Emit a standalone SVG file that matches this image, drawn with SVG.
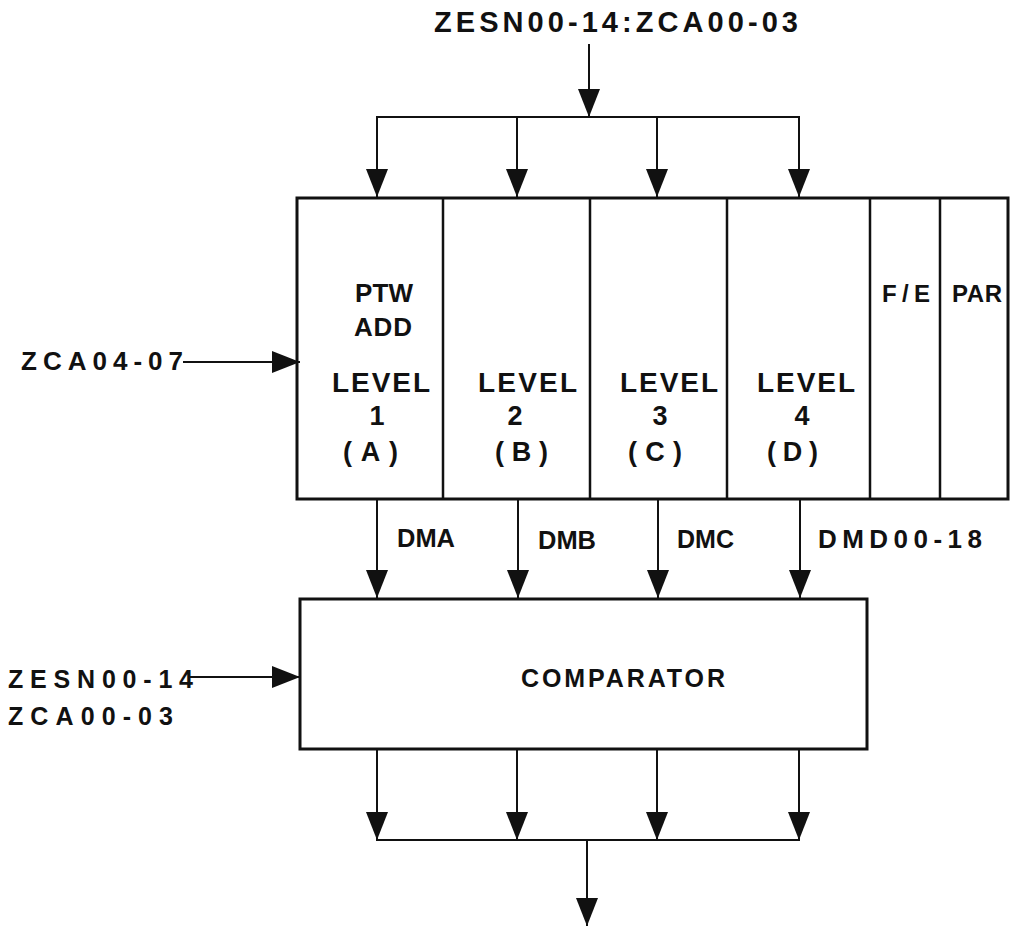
<svg xmlns="http://www.w3.org/2000/svg" width="1011" height="926" viewBox="0 0 1011 926">
<style>
text{font-family:"Liberation Sans",Arial,sans-serif;font-weight:bold;fill:#111}
.t29{font-size:29px}.t28{font-size:28px}.t27{font-size:27px}.t26{font-size:26px}.t25{font-size:25px}.t24{font-size:24px}
.box{fill:#fff;stroke:#111;stroke-width:3}
.div{stroke:#111;stroke-width:2.5}
.ln{stroke:#111;stroke-width:2;fill:none}
</style>
<defs>
<marker id="ah" viewBox="0 0 28 22" refX="28" refY="11" markerWidth="28" markerHeight="22" markerUnits="userSpaceOnUse" orient="auto">
<path d="M0,0 L28,11 L0,22 Z" fill="#111"/>
</marker>
</defs>
<rect width="1011" height="926" fill="#fff"/>
<g id="top-label"><text class="t29" x="434" y="32" textLength="364" lengthAdjust="spacing">ZESN00-14:ZCA00-03</text></g>
<g id="levels-box">
<rect class="box" x="297" y="198" width="711" height="301"/>
<line class="div" x1="443" y1="198" x2="443" y2="499"/>
<line class="div" x1="590" y1="198" x2="590" y2="499"/>
<line class="div" x1="727" y1="198" x2="727" y2="499"/>
<line class="div" x1="870" y1="198" x2="870" y2="499"/>
<line class="div" x1="940" y1="198" x2="940" y2="499"/>
<text class="t26" x="355" y="302" textLength="58" lengthAdjust="spacing">PTW</text>
<text class="t26" x="354" y="336" textLength="58" lengthAdjust="spacing">ADD</text>
<text class="t28" x="332" y="392" textLength="98" lengthAdjust="spacing">LEVEL</text>
<text class="t27" x="377" y="425" text-anchor="middle">1</text>
<text class="t27" x="343" y="461" textLength="55" lengthAdjust="spacing">(A)</text>
<text class="t28" x="478" y="392" textLength="99" lengthAdjust="spacing">LEVEL</text>
<text class="t27" x="515" y="425" text-anchor="middle">2</text>
<text class="t27" x="495" y="461" textLength="53" lengthAdjust="spacing">(B)</text>
<text class="t28" x="620" y="392" textLength="98" lengthAdjust="spacing">LEVEL</text>
<text class="t27" x="660" y="425" text-anchor="middle">3</text>
<text class="t27" x="628" y="461" textLength="54" lengthAdjust="spacing">(C)</text>
<text class="t28" x="757" y="392" textLength="98" lengthAdjust="spacing">LEVEL</text>
<text class="t27" x="802" y="425" text-anchor="middle">4</text>
<text class="t27" x="767" y="461" textLength="51" lengthAdjust="spacing">(D)</text>
<text class="t24" x="882" y="302" textLength="48" lengthAdjust="spacing">F/E</text>
<text class="t24" x="952" y="302" textLength="50" lengthAdjust="spacing">PAR</text>
</g>
<g id="comparator">
<rect class="box" x="300" y="599" width="567" height="150"/>
<text class="t25" x="521" y="687" textLength="204" lengthAdjust="spacing">COMPARATOR</text>
</g>
<g id="left-labels">
<text class="t26" x="21" y="370" textLength="162" lengthAdjust="spacing">ZCA04-07</text>
<text class="t25" x="8" y="688" textLength="185" lengthAdjust="spacing">ZESN00-14</text>
<text class="t25" x="8" y="725" textLength="165" lengthAdjust="spacing">ZCA00-03</text>
</g>
<g id="bus-labels">
<text class="t26" x="397" y="547" textLength="58" lengthAdjust="spacingAndGlyphs">DMA</text>
<text class="t26" x="538" y="549" textLength="58" lengthAdjust="spacingAndGlyphs">DMB</text>
<text class="t26" x="677" y="548" textLength="57" lengthAdjust="spacingAndGlyphs">DMC</text>
<text class="t26" x="818" y="548" textLength="164" lengthAdjust="spacing">DMD00-18</text>
</g>
<g id="connectors">
<line class="ln" x1="589" y1="44" x2="589" y2="117" marker-end="url(#ah)"/>
<line class="ln" x1="376" y1="117" x2="800" y2="117"/>
<line class="ln" x1="377" y1="117" x2="377" y2="197" marker-end="url(#ah)"/>
<line class="ln" x1="517" y1="117" x2="517" y2="197" marker-end="url(#ah)"/>
<line class="ln" x1="657" y1="117" x2="657" y2="197" marker-end="url(#ah)"/>
<line class="ln" x1="799" y1="117" x2="799" y2="197" marker-end="url(#ah)"/>
<line class="ln" x1="183" y1="362" x2="300" y2="362" marker-end="url(#ah)"/>
<line class="ln" x1="377" y1="499" x2="377" y2="598" marker-end="url(#ah)"/>
<line class="ln" x1="518" y1="499" x2="518" y2="598" marker-end="url(#ah)"/>
<line class="ln" x1="658" y1="499" x2="658" y2="598" marker-end="url(#ah)"/>
<line class="ln" x1="800" y1="499" x2="800" y2="598" marker-end="url(#ah)"/>
<line class="ln" x1="190" y1="677" x2="300" y2="677" marker-end="url(#ah)"/>
<line class="ln" x1="377" y1="749" x2="377" y2="840" marker-end="url(#ah)"/>
<line class="ln" x1="517" y1="749" x2="517" y2="840" marker-end="url(#ah)"/>
<line class="ln" x1="657" y1="749" x2="657" y2="840" marker-end="url(#ah)"/>
<line class="ln" x1="799" y1="749" x2="799" y2="840" marker-end="url(#ah)"/>
<line class="ln" x1="376" y1="840" x2="800" y2="840"/>
<line class="ln" x1="587" y1="840" x2="587" y2="926" marker-end="url(#ah)"/>
</g>
</svg>
